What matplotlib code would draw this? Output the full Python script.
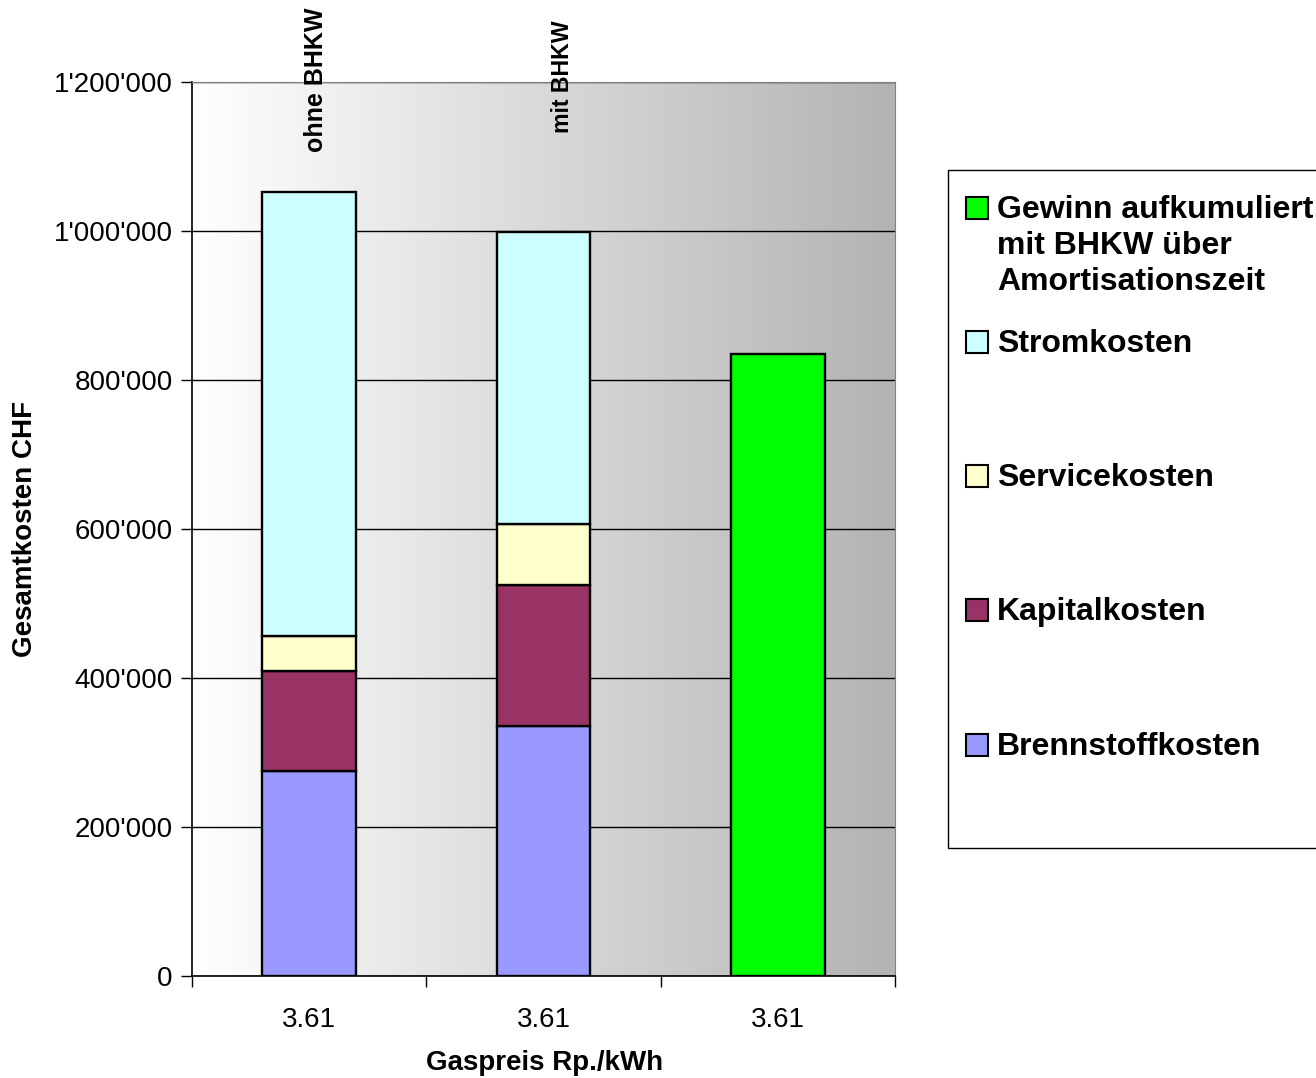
import numpy as np
import matplotlib
matplotlib.use('Agg')
from matplotlib import pyplot as plt
from matplotlib.patches import Rectangle

plt.rcParams['font.family'] = ['Liberation Sans', 'DejaVu Sans']

# data
categories = ['3.61', '3.61', '3.61']
bar_labels = ['ohne BHKW', 'mit BHKW', '']
brennstoff = [275000, 336000, 0]
kapital = [134000, 189000, 0]
service = [48000, 82000, 0]
strom = [596000, 392000, 0]
gewinn = [0, 0, 835000]

series = [('Brennstoffkosten', brennstoff, '#9999FF'),
          ('Kapitalkosten', kapital, '#993366'),
          ('Servicekosten', service, '#FFFFCC'),
          ('Stromkosten', strom, '#CCFFFF'),
          ('Gewinn aufkumuliert\nmit BHKW über\nAmortisationszeit', gewinn, '#00FF00')]

fig = plt.figure(figsize=(13.16, 10.78), dpi=100)
ax = fig.add_axes([192/1316, 1-976/1078, (895-192)/1316, (976-82)/1078])

x = np.arange(len(categories))
ax.set_xlim(-0.5, 2.5)
ax.set_ylim(0, 1200000)

# gradient background
grad = np.linspace(0, 1, 256).reshape(1, -1)
cmap = matplotlib.colors.LinearSegmentedColormap.from_list('bg', ['#ffffff', '#b3b3b3'])
ax.imshow(grad, cmap=cmap, aspect='auto', extent=(-0.5, 2.5, 0, 1200000), zorder=0)

ax.yaxis.grid(True, color='#000000', linewidth=1.0, zorder=1)
ax.set_axisbelow(True)

bottom = np.zeros(len(categories))
for name, vals, col in series:
    vals = np.array(vals, dtype=float)
    m = vals > 0
    ax.bar(x[m], vals[m], width=0.4, bottom=bottom[m], color=col,
           edgecolor='black', linewidth=1.7, zorder=3)
    bottom = bottom + vals

# labels above the stacked bars
ax.text(0.03, 1106000, bar_labels[0], rotation=90, ha='center', va='bottom',
        fontsize=18, fontweight='bold', clip_on=False)
ax.text(1.08, 1131000, bar_labels[1], rotation=90, ha='center', va='bottom',
        fontsize=16.7, fontweight='bold', clip_on=False)

yt = np.arange(0, 1200001, 200000)
ax.set_yticks(yt)
ax.set_yticklabels(["{:,}".format(v).replace(',', "'") for v in yt], fontsize=20)
ax.tick_params(axis='y', direction='out', length=8, width=1, pad=6)

ax.set_xticks([-0.5, 0.5, 1.5, 2.5])
ax.set_xticklabels([])
ax.tick_params(axis='x', which='major', direction='out', length=8, width=1)
ax.set_xticks(x, minor=True)
ax.set_xticklabels(categories, minor=True, fontsize=20)
ax.tick_params(axis='x', which='minor', length=0, pad=22)

for s in ['top', 'right']:
    ax.spines[s].set_color('#808080')
for s in ['left', 'bottom']:
    ax.spines[s].set_color('black')
    ax.spines[s].set_linewidth(1.2)

ax.set_ylabel('Gesamtkosten CHF', fontsize=20, fontweight='bold')
ax.set_xlabel('Gaspreis Rp./kWh', fontsize=20, fontweight='bold')
ax.yaxis.set_label_coords(-0.219, 0.5)
ax.xaxis.set_label_coords(0.502, -0.083)

# legend drawn by hand
W, H = 1316.0, 1078.0
fig.patches.append(Rectangle((948/W, 1-848/H), 400/W, (848-170)/H, transform=fig.transFigure,
                             facecolor='white', edgecolor='black', linewidth=1.0))
leg_y = [208, 342, 476, 610, 745]
leg_items = list(reversed(series))
for (name, vals, col), yy in zip(leg_items, leg_y):
    fig.patches.append(Rectangle((966/W, 1-(yy+11)/H), 22/W, 22/H, transform=fig.transFigure,
                                 facecolor=col, edgecolor='black', linewidth=1.5))
    fig.text(997/W, 1-(yy-13)/H, name, fontsize=23, fontweight='bold', va='top', ha='left',
             linespacing=1.27)

fig.savefig('out.png', dpi=100)
